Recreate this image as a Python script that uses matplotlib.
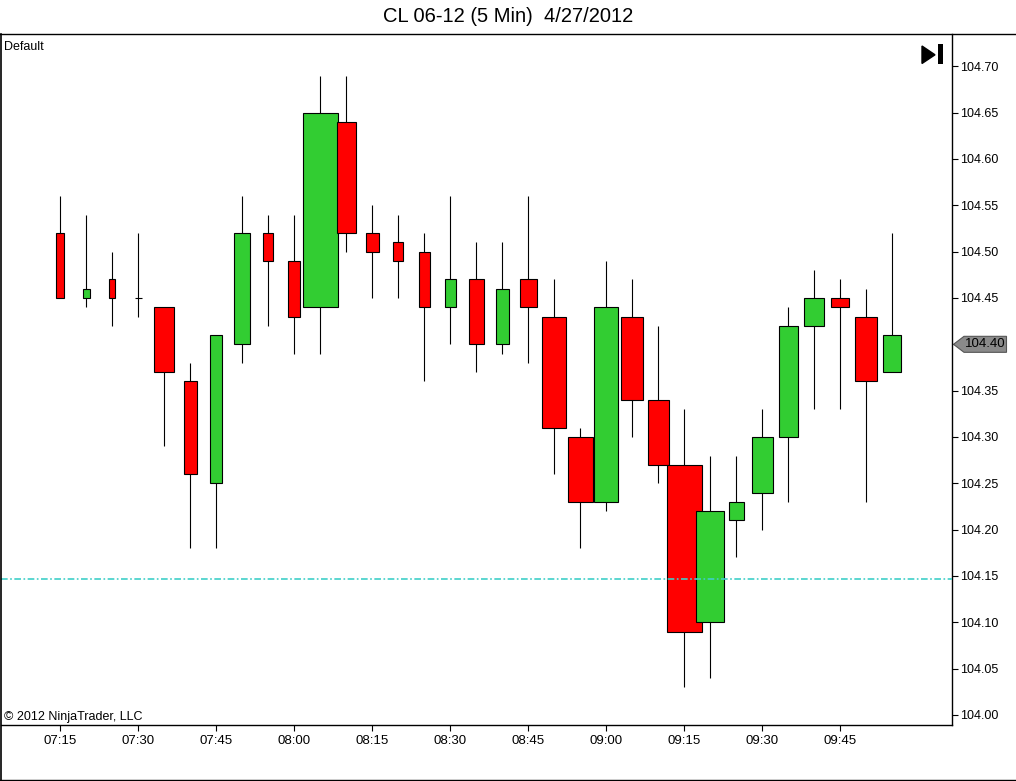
import matplotlib
matplotlib.use('Agg')
import matplotlib.pyplot as plt
from matplotlib.patches import Rectangle, Polygon
from matplotlib.lines import Line2D
import numpy as np

plt.rcParams['font.family'] = ['Liberation Sans', 'DejaVu Sans']

# ---------------- data ----------------
times = ["07:15", "07:20", "07:25", "07:30", "07:35", "07:40", "07:45", "07:50",
         "07:55", "08:00", "08:05", "08:10", "08:15", "08:20", "08:25", "08:30",
         "08:35", "08:40", "08:45", "08:50", "08:55", "09:00", "09:05", "09:10",
         "09:15", "09:20", "09:25", "09:30", "09:35", "09:40", "09:45", "09:50",
         "09:55"]
opens = [104.52, 104.45, 104.47, 104.45, 104.44, 104.36, 104.25, 104.40,
         104.52, 104.49, 104.44, 104.64, 104.52, 104.51, 104.50, 104.44,
         104.47, 104.40, 104.47, 104.43, 104.30, 104.23, 104.43, 104.34,
         104.27, 104.10, 104.21, 104.24, 104.30, 104.42, 104.45, 104.43,
         104.37]
highs = [104.56, 104.54, 104.50, 104.52, 104.44, 104.38, 104.41, 104.56,
         104.54, 104.54, 104.69, 104.69, 104.55, 104.54, 104.52, 104.56,
         104.51, 104.51, 104.56, 104.47, 104.31, 104.49, 104.47, 104.42,
         104.33, 104.28, 104.28, 104.33, 104.44, 104.48, 104.47, 104.46,
         104.52]
lows = [104.45, 104.44, 104.42, 104.43, 104.29, 104.18, 104.18, 104.38,
        104.42, 104.39, 104.39, 104.50, 104.45, 104.45, 104.36, 104.40,
        104.37, 104.39, 104.38, 104.26, 104.18, 104.22, 104.30, 104.25,
        104.03, 104.04, 104.17, 104.20, 104.23, 104.33, 104.33, 104.23,
        104.37]
closes = [104.45, 104.46, 104.45, 104.45, 104.37, 104.26, 104.41, 104.52,
          104.49, 104.43, 104.65, 104.52, 104.50, 104.49, 104.44, 104.47,
          104.40, 104.46, 104.44, 104.31, 104.23, 104.44, 104.34, 104.27,
          104.09, 104.22, 104.23, 104.30, 104.42, 104.45, 104.44, 104.36,
          104.41]
volume = [800, 700, 650, 700, 2000, 1300, 1200, 1600, 1000, 1200, 3500, 1900,
          1300, 1000, 1100, 1100, 1500, 1300, 1700, 2400, 2500, 2400, 2200, 2100,
          3500, 2800, 1500, 2100, 1900, 2000, 1800, 2200, 1800]
tick_labels = ["07:15", "07:30", "07:45", "08:00", "08:15", "08:30", "08:45",
               "09:00", "09:15", "09:30", "09:45"]
price_ticks = [104.00, 104.05, 104.10, 104.15, 104.20, 104.25, 104.30, 104.35,
               104.40, 104.45, 104.50, 104.55, 104.60, 104.65, 104.70]
last_price = 104.40
ref_level = 104.147
title = "CL 06-12 (5 Min)  4/27/2012"

# ---------------- figure ----------------
W, H = 1016, 781
fig = plt.figure(figsize=(W / 100, H / 100), dpi=100)
fig.patch.set_facecolor('white')

def fx(px):
    return px / W

def fy(py):
    return 1 - py / H

ax_l, ax_r, ax_t, ax_b = 1, 952, 34, 725
ax = fig.add_axes([fx(ax_l), fy(ax_b), fx(ax_r - ax_l), (ax_b - ax_t) / H])

n = len(times)
xs = np.arange(n)
max_w = 35 / 26.0
vol = np.array(volume, dtype=float)
widths = vol / vol.max() * max_w

RED = '#FF0000'
GREEN = '#32CD32'
LW = 0.8

for i in range(n):
    o, h, l, c = opens[i], highs[i], lows[i], closes[i]
    ax.vlines(xs[i], l, h, colors='black', linewidth=LW, zorder=2)
    w = widths[i]
    if abs(c - o) < 1e-9:
        ax.hlines(o, xs[i] - w / 2, xs[i] + w / 2, colors='black', linewidth=LW, zorder=3)
    else:
        col = GREEN if c > o else RED
        ax.add_patch(Rectangle((xs[i] - w / 2, min(o, c)), w, abs(c - o),
                               facecolor=col, edgecolor='black', linewidth=LW, zorder=3))

ax.axhline(ref_level, color='#40CFC8', linewidth=1.2, linestyle=(0, (4, 1.5, 1, 1.5)), zorder=4)

ax.set_xlim((ax_l - 60) / 26.0, (ax_r - 60) / 26.0)
ypx = 926.7
ax.set_ylim(104.0 - (ax_b - 715) / ypx, 104.0 + (715 - ax_t) / ypx)

tick_idx = [times.index(t) for t in tick_labels]
ax.set_xticks(tick_idx)
ax.set_xticklabels(tick_labels)
ax.yaxis.tick_right()
ax.set_yticks(price_ticks)
# the last-price marker covers the tick label at its level
ax.set_yticklabels(["" if abs(p - last_price) < 1e-9 else f"{p:.2f}" for p in price_ticks])
ax.tick_params(axis='both', direction='out', length=4, width=0.8, labelsize=9,
               colors='black', pad=1.5)
ax.tick_params(axis='x', pad=3, labelsize=9.5)

ax.spines['top'].set_visible(False)
ax.spines['left'].set_visible(False)
for s in ['right', 'bottom']:
    ax.spines[s].set_linewidth(1.0)

# frame lines of the window
fig.add_artist(Line2D([0, 1], [fy(34), fy(34)], color='black', linewidth=1.0, transform=fig.transFigure))
fig.add_artist(Line2D([fx(0.5), fx(0.5)], [fy(34), fy(780)], color='black', linewidth=1.2, transform=fig.transFigure))
fig.add_artist(Line2D([0, 1], [fy(780), fy(780)], color='black', linewidth=1.0, transform=fig.transFigure))

fig.text(0.5, fy(16), title, ha='center', va='center', fontsize=14.5)
ax.text(fx(4 - ax_l) / fx(ax_r - ax_l), 1 - (47 - ax_t) / (ax_b - ax_t), "Default",
        transform=ax.transAxes, ha='left', va='center', fontsize=9)
ax.text(fx(4 - ax_l) / fx(ax_r - ax_l), 1 - (717 - ax_t) / (ax_b - ax_t), "© 2012 NinjaTrader, LLC",
        transform=ax.transAxes, ha='left', va='center', fontsize=9)

# play-to-end icon
fig.add_artist(Polygon([[fx(922), fy(46)], [fx(922), fy(63.5)], [fx(935), fy(54.8)]],
                       closed=True, facecolor='black', edgecolor='black', transform=fig.transFigure))
fig.add_artist(Rectangle((fx(937.5), fy(64)), fx(5), (64 - 43.5) / H, facecolor='black',
                         edgecolor='none', transform=fig.transFigure))

# last price marker
yl = 715 - (last_price - 104.0) * ypx
tip = 953.5
fig.add_artist(Polygon([[fx(tip), fy(yl)], [fx(964), fy(yl - 8)], [fx(1006.5), fy(yl - 8)],
                        [fx(1006.5), fy(yl + 8)], [fx(964), fy(yl + 8)]], closed=True,
                       facecolor='#8A8A8A', edgecolor='#555555', linewidth=0.8, transform=fig.transFigure))
fig.text(fx(985), fy(yl), f"{last_price:.2f}", ha='center', va='center', fontsize=9.5, color='black')

fig.savefig('out.png', dpi=100, facecolor='white')
